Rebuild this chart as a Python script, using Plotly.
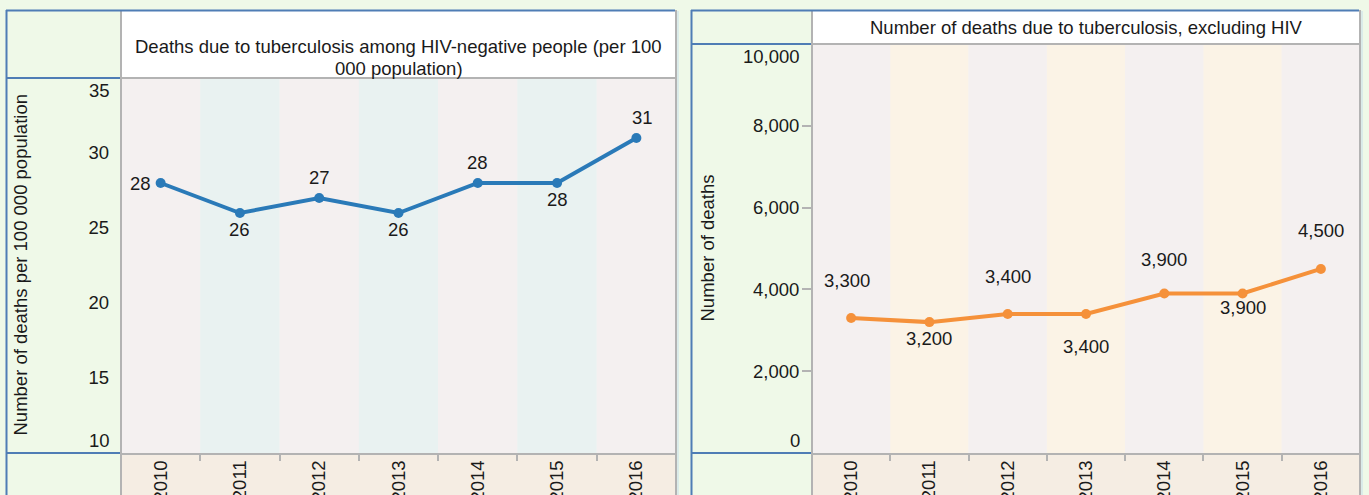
import plotly.graph_objects as go

# ---------------- data ----------------
years = ["2010", "2011", "2012", "2013", "2014", "2015", "2016"]
rate_hiv_neg = [28, 26, 27, 26, 28, 28, 31]
deaths_excl_hiv = [3300, 3200, 3400, 3400, 3900, 3900, 4500]
left_title_lines = ["Deaths due to tuberculosis among HIV-negative people (per 100", "000 population)"]
right_title = "Number of deaths due to tuberculosis, excluding HIV"
left_ytitle = "Number of deaths per 100 000 population"
right_ytitle = "Number of deaths"
left_ticks = [10, 15, 20, 25, 30, 35]
right_ticks = [0, 2000, 4000, 6000, 8000, 10000]

# ---------------- style ----------------
W, H = 1369, 495
FONT = "Liberation Sans, Arial, sans-serif"
FS = 18.5
TXT = "#1a1a1a"
PAGE = "#eff9e8"
BLUE_BORDER = "#4f7db5"
GRAY = "#b3b3b3"
BEIGE = "#f5ede3"
PINK = "#f4f0f0"
TEAL = "#e9f2f1"
CREAM = "#fbf3e6"
BLUE = "#2a7ab8"
ORANGE = "#f5913a"

# label offsets (style): (xshift, yshift, xanchor)
left_lbl = [(-8, 0, "right"), (0, -16, "center"), (0, 21, "center"), (0, -16, "center"),
            (0, 21, "center"), (0, -16, "center"), (6, 21, "center")]
right_lbl = [(-4, 38, "center"), (0, -16, "center"), (0, 37, "center"), (0, -33, "center"),
             (0, 34, "center"), (0, -14, "center"), (0, 38, "center")]


def fx(p):
    return p / W


def fy(p):
    return 1 - p / H


L = dict(x0=121, x1=676, y0=78, y1=453, ax0=6, tt=11)
R = dict(x0=812, x1=1360, y0=44, y1=453, ax0=691, tt=11)

fig = go.Figure()

fig.add_trace(go.Scatter(x=years, y=rate_hiv_neg, mode="lines+markers",
                         line=dict(color=BLUE, width=4), marker=dict(color=BLUE, size=10),
                         xaxis="x", yaxis="y", showlegend=False, hoverinfo="x+y"))
fig.add_trace(go.Scatter(x=years, y=deaths_excl_hiv, mode="lines+markers",
                         line=dict(color=ORANGE, width=4), marker=dict(color=ORANGE, size=10),
                         xaxis="x2", yaxis="y2", showlegend=False, hoverinfo="x+y"))

shapes = []
annotations = []


def rect(x0, y0, x1, y1, color):
    shapes.append(dict(type="rect", xref="paper", yref="paper", x0=fx(x0), x1=fx(x1),
                       y0=fy(y1), y1=fy(y0), fillcolor=color, line=dict(width=0), layer="below"))


def line(x0, y0, x1, y1, color, w=2):
    shapes.append(dict(type="line", xref="paper", yref="paper", x0=fx(x0), x1=fx(x1),
                       y0=fy(y0), y1=fy(y1), line=dict(color=color, width=w), layer="above"))


for P, xr, yr, band in ((L, "x", "y", TEAL), (R, "x2", "y2", CREAM)):
    rect(P["x0"], P["tt"], P["x1"], P["y0"], "white")
    rect(P["x0"], P["y1"], P["x1"], H, BEIGE)
    for i in range(len(years)):
        shapes.append(dict(type="rect", xref=xr, yref=yr + " domain", x0=i - 0.5, x1=i + 0.5,
                           y0=0, y1=1, fillcolor=band if i % 2 else PINK,
                           line=dict(width=0), layer="below"))
    line(P["x0"], P["y0"], P["x1"], P["y0"], GRAY)
    line(P["x0"], P["tt"] - 1, P["x0"], H, GRAY)
    line(P["x1"], P["tt"] - 1, P["x1"], H, GRAY)
    line(P["x1"] + 2, P["tt"], P["x1"] + 2, H, "#d3e6ea", 1.5)
    line(P["ax0"], P["tt"] - 0.5, P["x1"] - 1, P["tt"] - 0.5, BLUE_BORDER)
    line(P["ax0"] + 0.5, P["tt"] - 1, P["ax0"] + 0.5, H, BLUE_BORDER)
    line(P["ax0"], P["y0"], P["x0"] - 1, P["y0"], BLUE_BORDER)
    line(P["ax0"], P["y1"], P["x0"] - 1, P["y1"], BLUE_BORDER)

tfont = dict(size=FS, color=TXT, family=FONT)

# titles (left title wrapped over two lines as in the original)
for txt, ypx in zip(left_title_lines, (47, 68)):
    annotations.append(dict(text=txt, xref="paper", yref="paper",
                            x=fx((L["x0"] + L["x1"]) / 2), y=fy(ypx),
                            xanchor="center", yanchor="middle", showarrow=False, font=tfont))
annotations.append(dict(text=right_title, xref="paper", yref="paper",
                        x=fx((R["x0"] + R["x1"]) / 2), y=fy(27),
                        xanchor="center", yanchor="middle", showarrow=False, font=tfont))
# y titles
annotations.append(dict(text=left_ytitle, xref="paper", yref="paper", x=fx(20),
                        y=fy((L["y0"] + L["y1"]) / 2), textangle=-90, showarrow=False,
                        xanchor="center", yanchor="middle", font=tfont))
annotations.append(dict(text=right_ytitle, xref="paper", yref="paper", x=fx(707),
                        y=fy((R["y0"] + R["y1"]) / 2), textangle=-90, showarrow=False,
                        xanchor="center", yanchor="middle", font=tfont))

# end tick labels kept inside the plot height
for xr, yr, ticks, fmt, shift in (("x", "y", left_ticks, "{:d}", -9), ("x2", "y2", right_ticks, "{:,}", -10)):
    annotations.append(dict(text=fmt.format(ticks[-1]), xref=xr + " domain", yref=yr, x=0, y=ticks[-1],
                            xanchor="right", yanchor="top", xshift=shift, showarrow=False, font=tfont))
    annotations.append(dict(text=fmt.format(ticks[0]), xref=xr + " domain", yref=yr, x=0, y=ticks[0],
                            xanchor="right", yanchor="bottom", xshift=shift, showarrow=False, font=tfont))

# data labels (category index used as x position)
for xr, yr, vals, lbl, fmt in (("x", "y", rate_hiv_neg, left_lbl, "{:d}"),
                               ("x2", "y2", deaths_excl_hiv, right_lbl, "{:,}")):
    for i, (v, (dx, dy, xa)) in enumerate(zip(vals, lbl)):
        annotations.append(dict(text=fmt.format(v), xref=xr, yref=yr, x=i, y=v,
                                xanchor=xa, yanchor="middle", xshift=dx, yshift=dy,
                                showarrow=False, font=tfont))

xcommon = dict(type="category", range=[-0.5, len(years) - 0.5], tickson="boundaries",
               ticks="outside", ticklen=6, tickwidth=1.5, tickcolor=GRAY, tickangle=-90,
               ticklabelstandoff=-2, automargin=False,
               showgrid=False, showline=True, linecolor=GRAY, linewidth=2, zeroline=False,
               tickfont=tfont, fixedrange=True)

fig.update_layout(
    width=W, height=H, autosize=False,
    margin=dict(l=0, r=0, t=0, b=0, pad=0, autoexpand=False),
    paper_bgcolor=PAGE, plot_bgcolor=PINK,
    font=dict(family=FONT, size=FS, color=TXT),
    xaxis=dict(domain=[fx(L["x0"]), fx(L["x1"])], anchor="y", **xcommon),
    xaxis2=dict(domain=[fx(R["x0"]), fx(R["x1"])], anchor="y2", **xcommon),
    yaxis=dict(domain=[fy(L["y1"]), fy(L["y0"])], anchor="x", range=[left_ticks[0], left_ticks[-1]],
               tickvals=left_ticks[1:-1], ticks="", showgrid=False, zeroline=False, showline=False,
               automargin=False, ticklabelstandoff=11, tickfont=tfont, fixedrange=True),
    yaxis2=dict(domain=[fy(R["y1"]), fy(R["y0"])], anchor="x2", range=[right_ticks[0], right_ticks[-1]],
                tickvals=right_ticks[1:-1], tickformat=",", ticks="outside", ticklen=9, tickwidth=1.5,
                tickcolor=GRAY, showgrid=False, zeroline=False, showline=False, automargin=False,
                ticklabelstandoff=-1, tickfont=tfont, fixedrange=True),
    shapes=shapes,
    annotations=annotations,
    showlegend=False,
)

fig.write_html(
    "out.html",
    config={"displayModeBar": False, "responsive": False},
    post_script=(
        "var s='margin:0;padding:0;overflow:hidden;background:#eff9e8;';"
        "document.documentElement.style.cssText=s;document.body.style.cssText=s;"
    ),
)
